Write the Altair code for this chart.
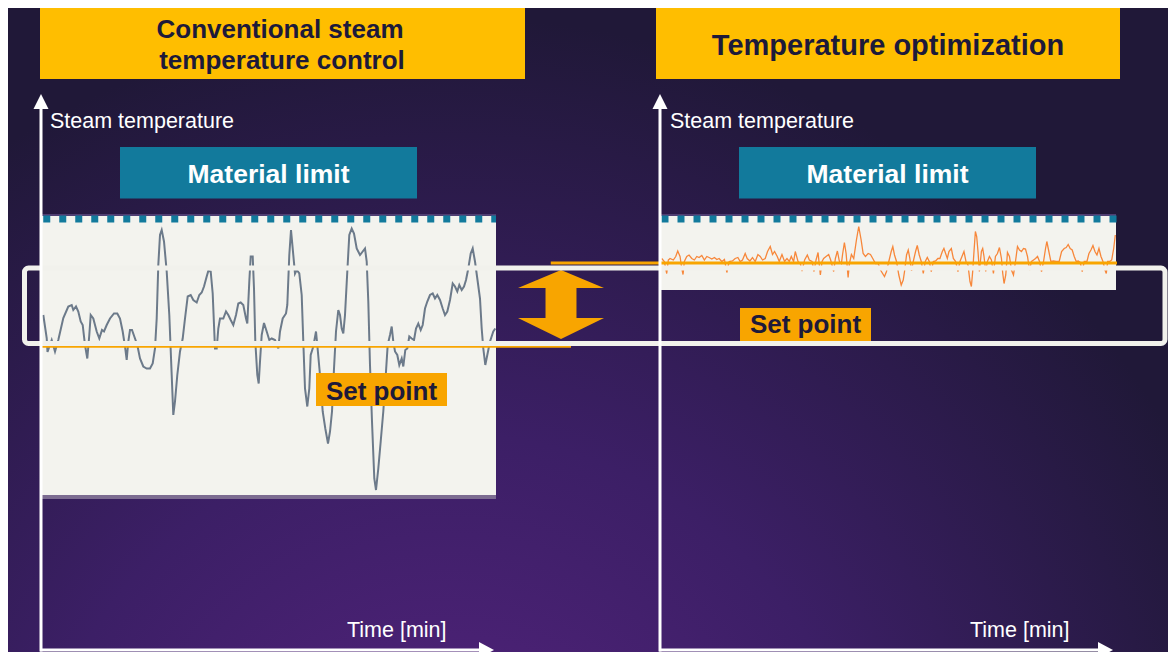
import altair as alt
import pandas as pd

# ---------------- data ----------------
# Conventional control: time [min] and steam temperature [degC]
left_time = [
    0.46, 1.14, 1.3, 2.14, 2.8, 3.46, 4.46, 5.46, 6.14, 6.46,
    7.0, 7.46, 7.94, 8.34, 8.8, 9.26, 9.66, 9.94, 10.46, 11.14,
    11.66, 12.2, 12.6, 13.14, 13.8, 14.6, 15.26, 15.8, 16.34, 16.8,
    17.14, 17.46, 17.8, 18.2, 18.8, 19.26, 19.8, 20.46, 21.14, 21.8,
    22.34, 22.8, 23.14, 23.46, 23.8, 24.14, 24.6, 25.14, 25.66, 26.14,
    26.46, 26.8, 27.26, 27.8, 28.34, 28.8, 29.34, 29.94, 30.46, 31.14,
    31.66, 32.14, 32.6, 33.14, 33.46, 33.94, 34.34, 34.6, 34.8, 35.14,
    35.46, 35.8, 36.46, 37.0, 37.46, 37.94, 38.46, 39.0, 39.46, 39.94,
    40.46, 41.0, 41.26, 41.66, 41.94, 42.34, 42.6, 42.86, 43.26, 43.54,
    43.8, 44.14, 44.6, 45.14, 45.66, 46.14, 46.8, 47.46, 47.8, 48.34,
    49.0, 49.26, 49.66, 50.0, 50.34, 50.8, 51.14, 51.66, 52.14, 52.46,
    52.8, 53.26, 53.66, 53.94, 54.46, 55.0, 55.26, 55.8, 56.34, 56.86,
    57.4, 57.8, 58.2, 58.6, 59.0, 59.46, 59.8, 60.14, 60.46, 60.8,
    61.26, 61.66, 62.14, 62.6, 63.14, 63.8, 64.34, 64.8, 65.14, 65.46,
    65.8, 66.2, 66.66, 67.0, 67.46, 67.94, 68.46, 69.0, 69.34, 69.8,
    70.14, 70.46, 70.8, 71.26, 71.66, 72.14, 72.46, 72.86, 73.26, 73.66,
    74.14, 74.6, 75.0, 75.46, 75.94, 76.34, 76.8, 77.26, 77.8, 78.34,
    78.8, 79.26, 79.8, 80.34, 80.8, 81.26, 81.8, 82.34, 82.8, 83.26,
    83.66, 84.14, 84.6, 85.0, 85.46, 85.94, 86.34, 86.8, 87.26, 87.8,
    88.14, 88.46, 88.86, 89.26, 89.8, 90.46, 90.86,
]
left_temp = [
    540.8, 536.2, 533.4, 535.8, 533.5, 535.8, 540.2, 542.5, 542.8, 541.8,
    542.5, 541.5, 539.5, 538.8, 534.8, 532.1, 536.8, 540.8, 540.1, 537.5,
    536.1, 537.8, 537.5, 538.8, 540.1, 541.1, 541.1, 540.1, 537.5, 534.5,
    531.8, 535.5, 537.8, 537.8, 536.1, 534.8, 532.1, 530.5, 530.1, 530.1,
    531.1, 534.1, 540.1, 550.8, 556.8, 557.8, 555.5, 549.5, 540.8, 528.8,
    520.8, 523.5, 528.8, 533.5, 536.1, 540.1, 544.5, 544.8, 543.8, 543.3,
    544.8, 545.3, 546.5, 548.5, 549.6, 549.5, 545.1, 538.8, 534.1, 534.1,
    538.1, 540.1, 540.1, 541.5, 540.8, 539.8, 538.8, 540.8, 543.1, 543.3,
    542.8, 540.1, 539.1, 547.5, 552.5, 552.5, 546.1, 535.5, 528.8, 527.1,
    531.5, 536.8, 539.2, 537.5, 535.8, 536.1, 535.8, 534.1, 537.5, 540.1,
    541.1, 542.8, 552.8, 557.8, 554.1, 549.1, 549.8, 549.1, 544.8, 535.5,
    526.1, 522.5, 526.1, 532.8, 534.5, 537.5, 534.8, 528.8, 521.5, 518.1,
    515.1, 517.5, 521.5, 530.1, 537.5, 541.8, 540.8, 538.1, 537.1, 540.8,
    549.5, 556.8, 558.1, 557.1, 554.1, 552.8, 553.5, 554.1, 551.5, 543.5,
    530.8, 519.5, 508.1, 505.8, 510.1, 515.5, 521.5, 529.5, 534.8, 536.8,
    538.5, 535.5, 533.5, 532.8, 530.8, 532.1, 530.5, 533.8, 534.1, 536.5,
    536.1, 535.8, 538.1, 539.1, 537.8, 538.8, 542.1, 543.5, 544.8, 545.1,
    544.1, 544.8, 543.8, 542.1, 540.8, 541.5, 543.8, 547.1, 546.5, 545.5,
    546.8, 545.8, 546.5, 547.8, 550.1, 553.1, 554.1, 551.5, 548.1, 544.1,
    538.1, 534.1, 530.8, 532.8, 535.5, 537.5, 538.1,
]

# Temperature optimization: time [min] and steam temperature [degC]
right_time = [
    0.34, 0.86, 1.34, 1.66, 2.0, 2.66, 3.14, 3.54, 4.0, 4.34,
    4.6, 4.86, 5.34, 5.8, 6.34, 6.86, 7.34, 7.8, 8.34, 8.86,
    9.34, 9.8, 10.34, 10.86, 11.34, 11.8, 12.34, 12.86, 13.34, 13.8,
    14.46, 15.0, 15.54, 16.0, 16.46, 17.0, 17.4, 17.94, 18.46, 19.0,
    19.54, 20.0, 20.46, 21.0, 21.46, 22.0, 22.46, 22.86, 23.4, 23.8,
    24.34, 24.86, 25.34, 25.8, 26.2, 26.66, 27.0, 27.54, 28.0, 28.34,
    28.86, 29.4, 29.8, 30.34, 30.74, 31.14, 31.54, 32.0, 32.34, 32.66,
    33.14, 33.66, 34.06, 34.66, 35.0, 35.4, 35.8, 36.2, 36.46, 36.8,
    37.14, 37.54, 37.8, 38.2, 38.66, 39.2, 39.66, 40.14, 40.54, 41.0,
    41.54, 42.0, 42.46, 43.0, 43.54, 44.0, 44.8, 45.2, 45.66, 46.14,
    46.46, 46.8, 47.2, 47.66, 48.14, 48.54, 48.8, 49.2, 49.54, 49.86,
    50.2, 50.54, 51.0, 51.34, 51.74, 52.14, 52.54, 52.94, 53.34, 53.74,
    54.14, 54.54, 55.0, 55.46, 55.86, 56.34, 56.66, 57.0, 57.34, 57.66,
    58.14, 58.54, 59.0, 59.46, 59.86, 60.26, 60.66, 61.06, 61.46, 61.86,
    62.14, 62.4, 62.66, 62.94, 63.2, 63.46, 63.74, 64.14, 64.4, 64.66,
    65.0, 65.34, 65.74, 66.14, 66.54, 66.94, 67.34, 67.74, 68.14, 68.4,
    68.66, 69.0, 69.34, 69.74, 70.14, 70.54, 70.94, 71.34, 71.74, 72.14,
    72.54, 72.94, 73.34, 73.74, 74.14, 74.54, 74.94, 75.34, 75.74, 76.14,
    76.54, 76.94, 77.2, 77.6, 78.0, 78.54, 79.06, 79.66, 80.14, 80.66,
    81.06, 81.46, 81.86, 82.26, 82.66, 83.06, 83.46, 83.86, 84.26, 84.66,
    85.2, 85.6, 86.0, 86.4, 86.8, 87.2, 87.6, 88.0, 88.4, 88.8,
    89.06, 89.34, 89.74, 90.14, 90.54, 90.86,
]
right_temp = [
    552.1, 551.5, 549.1, 551.8, 552.1, 551.8, 552.5, 553.6, 552.5, 550.1,
    548.9, 551.5, 552.5, 552.8, 552.1, 551.8, 552.5, 552.3, 552.7, 551.8,
    552.5, 552.3, 552.0, 552.3, 551.9, 552.1, 551.5, 551.9, 549.3, 551.5,
    551.6, 552.1, 552.3, 551.5, 551.8, 553.1, 552.1, 551.6, 552.3, 551.5,
    552.9, 552.5, 551.8, 552.1, 553.5, 554.5, 552.9, 553.5, 552.5, 551.5,
    552.9, 551.5, 552.1, 551.5, 552.5, 551.5, 553.5, 551.5, 551.1, 549.6,
    551.8, 552.8, 551.8, 551.5, 549.5, 551.8, 553.3, 548.8, 551.5, 552.1,
    552.5, 552.9, 551.8, 549.5, 552.1, 553.6, 551.5, 551.1, 553.1, 555.3,
    553.1, 548.3, 551.1, 552.9, 552.1, 555.8, 558.5, 555.8, 553.1, 552.5,
    553.1, 552.9, 552.1, 551.1, 551.1, 549.8, 548.5, 549.5, 551.5, 553.5,
    554.5, 552.8, 551.5, 548.8, 546.8, 547.8, 549.5, 552.8, 553.8, 552.1,
    549.6, 551.5, 553.5, 554.7, 552.8, 551.5, 549.1, 551.5, 552.3, 551.5,
    549.5, 551.5, 551.6, 552.1, 552.1, 553.5, 554.1, 553.1, 552.1, 553.5,
    554.1, 552.1, 551.5, 549.5, 551.5, 552.5, 553.5, 551.5, 550.8, 547.5,
    546.5, 549.5, 553.5, 557.5, 556.5, 553.5, 549.5, 553.5, 554.1, 552.5,
    549.5, 551.5, 552.5, 551.8, 549.1, 552.5, 553.1, 554.3, 552.1, 549.1,
    547.1, 548.8, 553.3, 552.5, 549.8, 548.8, 551.5, 554.5, 553.8, 553.5,
    554.1, 554.0, 552.5, 549.8, 551.5, 551.8, 552.1, 552.5, 551.5, 549.5,
    551.5, 554.1, 555.5, 553.5, 551.5, 551.6, 551.5, 551.5, 553.5, 554.1,
    554.3, 554.9, 554.1, 553.8, 552.5, 551.5, 551.6, 551.3, 549.5, 551.5,
    551.5, 553.1, 553.8, 554.7, 553.5, 552.8, 554.1, 552.5, 551.5, 549.8,
    549.1, 551.5, 551.5, 551.8, 554.1, 556.8,
]

material_limit = 560.0
setpoint_conventional = 534.5
setpoint_optimized = 551.2

panel_title_left = ["Conventional steam", "temperature control"]
panel_title_right = ["Temperature optimization"]
limit_label = "Material limit"
setpoint_label = "Set point"
y_axis_label = "Steam temperature"
x_axis_label = "Time [min]"

# ---------------- layout ----------------
FONT = "Liberation Sans"
W, H = 1160, 644          # page is 1176 x 660 with its 8px margin
DARK = "#1d1a3a"
AMBER = "#ffbe00"
ORANGE = "#f8a500"
TEAL = "#127a9c"
PANEL = "#f3f3ee"

# canvas scales: page pixel -> chart pixel
cx = alt.Scale(domain=[8, 8 + W], range=[0, W], nice=False, zero=False)
cy = alt.Scale(domain=[8, 8 + H], range=[0, H], nice=False, zero=False)
# data scales of the two panels
temp_scale = alt.Scale(domain=[560.8, 504.4], range=[207, 489], nice=False, zero=False)
time_left = alt.Scale(domain=[0, 91], range=[33, 488], nice=False, zero=False)
time_right = alt.Scale(domain=[0, 91], range=[652, 1108], nice=False, zero=False)


def boxes(rows, **mark):
    df = pd.DataFrame(rows, columns=["x", "x2", "y", "y2"])
    return alt.Chart(df).mark_rect(**mark).encode(
        x=alt.X("x:Q", scale=cx, axis=None), x2="x2:Q",
        y=alt.Y("y:Q", scale=cy, axis=None), y2="y2:Q")


def rules(rows, **mark):
    df = pd.DataFrame(rows, columns=["x", "x2", "y", "y2"])
    return alt.Chart(df).mark_rule(**mark).encode(
        x=alt.X("x:Q", scale=cx, axis=None), x2="x2:Q",
        y=alt.Y("y:Q", scale=cy, axis=None), y2="y2:Q")


def symbols(rows, shape, size, color):
    df = pd.DataFrame(rows, columns=["x", "y"])
    return alt.Chart(df).mark_point(
        shape=shape, size=size, filled=True, color=color, opacity=1, strokeWidth=0
    ).encode(x=alt.X("x:Q", scale=cx, axis=None), y=alt.Y("y:Q", scale=cy, axis=None))


def texts(rows, size, color, weight="normal", align="center"):
    df = pd.DataFrame(rows, columns=["label", "x", "y"])
    return alt.Chart(df).mark_text(
        font=FONT, fontSize=size, color=color, fontWeight=weight,
        align=align, baseline="alphabetic"
    ).encode(x=alt.X("x:Q", scale=cx, axis=None), y=alt.Y("y:Q", scale=cy, axis=None),
             text="label:N")


def series(times, temps, xscale, **mark):
    df = pd.DataFrame({"t": times, "T": temps})
    return alt.Chart(df).mark_line(**mark).encode(
        x=alt.X("t:Q", scale=xscale, axis=None),
        y=alt.Y("T:Q", scale=temp_scale, axis=None))


def guide(t0, t1, temp, xscale, **mark):
    df = pd.DataFrame({"t": [t0], "t2": [t1], "T": [temp]})
    return alt.Chart(df).mark_rule(**mark).encode(
        x=alt.X("t:Q", scale=xscale, axis=None), x2="t2:Q",
        y=alt.Y("T:Q", scale=temp_scale, axis=None))


background = boxes([(8, 8 + W, 8, 8 + H)], strokeWidth=0, fill={
    "gradient": "radial",
    "x1": 0.38, "y1": 0.95, "r1": 0.0,
    "x2": 0.38, "y2": 0.95, "r2": 0.72,
    "stops": [
        {"offset": 0.0, "color": "#55237f"},
        {"offset": 0.5, "color": "#3c1f66"},
        {"offset": 1.0, "color": "#201838"},
    ],
})

title_boxes = boxes([(40, 525, 8, 79), (656, 1120, 8, 79)], color=AMBER)
limit_boxes = boxes([(120, 417, 147, 198.5), (739, 1036, 147, 198.5)], color=TEAL)
panels = boxes([(41, 496, 216, 495), (660, 1116, 216, 290)], color=PANEL)
panel_top = boxes([(41, 496, 214, 216), (660, 1116, 214, 216)], color="#4f3e72")
panel_bottom = boxes([(41, 496, 495, 499)], color="#7c6c91")

limit_left = guide(0.45, 91, material_limit, time_left, color=TEAL, strokeWidth=7,
                   strokeDash=[7, 9], strokeCap="butt")
limit_right = guide(0.3, 91.2, material_limit, time_right, color=TEAL, strokeWidth=7,
                    strokeDash=[7, 9], strokeCap="butt")

line_left = series(left_time, left_temp, time_left, color="#6c7a8a", strokeWidth=2)
line_right = series(right_time, right_temp, time_right, color="#f7873a", strokeWidth=1.3)

sp_left = guide(0, 106, setpoint_conventional, time_left, color=ORANGE, strokeWidth=2.5)
sp_right = guide(-21.8, 91.2, setpoint_optimized, time_right, color=ORANGE, strokeWidth=3)

double_arrow = symbols(
    [(561, 304.5)],
    "M0,-0.8L1,-0.384L0.36,-0.384L0.36,0.314L1,0.314L0,0.8L-1,0.314L-0.36,0.314L-0.36,-0.384L-1,-0.384Z",
    86 * 86, ORANGE)

frame = boxes([(24.5, 1165, 268, 343.5)], fillOpacity=0, stroke="#f1f1ec",
              strokeWidth=5, cornerRadius=4)

sp_boxes = boxes([(316, 447, 373, 406), (740, 871, 308, 341)], color=ORANGE)

axes = rules([(41, 41, 104, 651.5), (40, 482, 650, 650),
              (660, 660, 104, 651.5), (659, 1102, 650, 650)],
             color="white", strokeWidth=3)
up_heads = symbols([(41, 101.5), (660, 101.5)], "M0,-1L1,1L-1,1Z", 15 * 15, "white")
right_heads = symbols([(486.5, 650), (1105.5, 650)], "M1,0L-1,-1.07L-1,1.07Z", 15 * 15, "white")

title_left = texts([(panel_title_left[0], 280, 38), (panel_title_left[1], 282, 69)],
                   26, DARK, "bold")
title_right = texts([(panel_title_right[0], 888, 55)], 29, DARK, "bold")
limit_texts = texts([(limit_label, 268.5, 183), (limit_label, 887.5, 183)],
                    26.5, "white", "bold")
sp_texts = texts([(setpoint_label, 381.5, 400), (setpoint_label, 805.5, 333)],
                 26, DARK, "bold")
axis_texts = texts([(y_axis_label, 50, 127.5), (y_axis_label, 670, 127.5),
                    (x_axis_label, 347, 637), (x_axis_label, 970, 637)],
                   21.5, "white", "normal", "left")

chart = alt.layer(
    background, title_boxes, limit_boxes, panels, panel_top, panel_bottom,
    limit_left, limit_right, line_left, line_right, sp_left, sp_right,
    double_arrow, frame, sp_boxes, axes, up_heads, right_heads,
    title_left, title_right, limit_texts, sp_texts, axis_texts,
).resolve_scale(
    x="independent", y="independent"
).properties(
    width=W, height=H, padding=0, autosize=alt.AutoSizeParams(type="none")
).configure(
    background="#231a40"
).configure_view(
    strokeWidth=0
)

chart.save("out.html", embed_options={"renderer": "svg", "actions": False})
